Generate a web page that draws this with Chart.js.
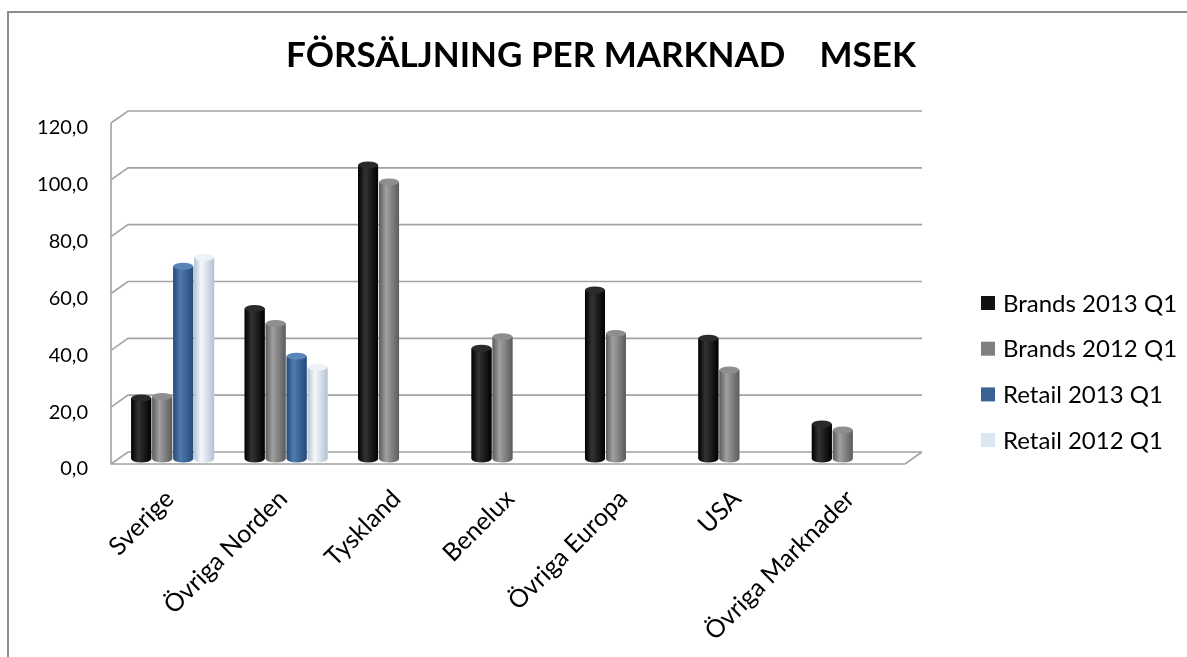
<!DOCTYPE html>
<html lang="sv">
<head>
<meta charset="utf-8">
<title>Försäljning per marknad</title>
<script src="https://cdn.jsdelivr.net/npm/chart.js@4.4.1/dist/chart.umd.min.js"></script>
<style>
  html, body { margin: 0; padding: 0; background: #fff; overflow: hidden; }
  #wrap { position: relative; width: 1187px; height: 657px; }
  #frame { position: absolute; left: 7px; top: 11px; width: 1300px; height: 800px;
           border-left: 2px solid #8c8c8c; border-top: 2px solid #8c8c8c; pointer-events: none; }
  canvas { position: absolute; left: 0; top: 0; }
</style>
</head>
<body>
<div id="wrap">
  <canvas id="salesChart" width="1187" height="657"></canvas>
  <div id="frame"></div>
</div>
<script>
// ============================================
// Försäljning per marknad (MSEK) – 3D-ish column chart
// ============================================

const chartTitle  = 'FÖRSÄLJNING PER MARKNAD    MSEK';
const categories  = ['Sverige', 'Övriga Norden', 'Tyskland', 'Benelux', 'Övriga Europa', 'USA', 'Övriga Marknader'];
const seriesNames = ['Brands 2013 Q1', 'Brands 2012 Q1', 'Retail 2013 Q1', 'Retail 2012 Q1'];
const brands2013  = [21.5, 53.0, 103.5, 39.0, 59.5, 42.5, 12.3];
const brands2012  = [22.0, 47.7, 97.5, 43.0, 44.2, 31.3, 10.2];
const retail2013  = [67.8, 36.2, null, null, null, null, null];
const retail2012  = [71.0, 32.3, null, null, null, null, null];
const yTickLabels = ['0,0', '20,0', '40,0', '60,0', '80,0', '100,0', '120,0'];

const FONT = 'Lato';

// cylinder shading per series: [base, edge, highlight, top]
const shades = [
  ['#111111', '#000000', '#333333', '#2a2a2a'],
  ['#808080', '#5c5c5c', '#a0a0a0', '#8e8e8e'],
  ['#3a6294', '#264a78', '#4f7bb0', '#5a85b8'],
  ['#dce6f2', '#b3c1d3', '#f6f9fd', '#eef3f9']
];

// depth offsets of back wall / front edge relative to the bar plane
const BACK  = { dx: 12, dy: -7 };
const FRONT = { dx: -5, dy: 5 };

const frame3d = {
  id: 'frame3d',
  beforeDatasetsDraw(chart) {
    const { ctx, chartArea: a, scales: { y } } = chart;
    ctx.save();
    ctx.strokeStyle = '#a3a3a3';
    ctx.lineWidth = 1.6;
    ctx.beginPath();
    for (let v = 0; v <= 120; v += 20) {
      const py = y.getPixelForValue(v);
      ctx.moveTo(a.left + FRONT.dx, py + FRONT.dy);
      ctx.lineTo(a.left + BACK.dx, py + BACK.dy);
      ctx.lineTo(a.right + BACK.dx, py + BACK.dy);
    }
    const y0 = y.getPixelForValue(0), yTop = y.getPixelForValue(120);
    ctx.moveTo(a.left + FRONT.dx, yTop + FRONT.dy);
    ctx.lineTo(a.left + FRONT.dx, y0 + FRONT.dy);
    ctx.lineTo(a.right + FRONT.dx, y0 + FRONT.dy);
    ctx.lineTo(a.right + BACK.dx, y0 + BACK.dy);
    ctx.stroke();
    ctx.restore();
  },
  afterDatasetsDraw(chart) {
    const ctx = chart.ctx;
    ctx.save();
    chart.data.datasets.forEach((ds, di) => {
      const [, edge, hi, top] = shades[di];
      chart.getDatasetMeta(di).data.forEach((el, i) => {
        if (ds.data[i] == null) return;
        const { x, y, base, width } = el.getProps(['x', 'y', 'base', 'width'], true);
        const l = x - width / 2, r = x + width / 2, ry = 3.5;
        const g = ctx.createLinearGradient(l, 0, r, 0);
        g.addColorStop(0, edge);
        g.addColorStop(0.35, hi);
        g.addColorStop(1, edge);
        ctx.fillStyle = g;
        ctx.beginPath();
        ctx.moveTo(l, y);
        ctx.lineTo(l, base);
        ctx.ellipse(x, base, width / 2, ry, 0, Math.PI, 0, true);
        ctx.lineTo(r, y);
        ctx.closePath();
        ctx.fill();
        ctx.fillStyle = top;
        ctx.beginPath();
        ctx.ellipse(x, y, width / 2, ry, 0, 0, Math.PI * 2);
        ctx.fill();
      });
    });
    ctx.restore();
  }
};

// title and legend placed like the original sheet (title off-centre, legend at right)
const decorations = {
  id: 'decorations',
  afterDraw(chart) {
    const ctx = chart.ctx;
    ctx.save();
    ctx.fillStyle = '#000';
    ctx.font = `bold 35px ${FONT}`;
    ctx.textAlign = 'center';
    ctx.textBaseline = 'middle';
    ctx.fillText(chartTitle, 601, 56);

    ctx.textAlign = 'left';
    ctx.font = `24px ${FONT}`;
    chart.data.datasets.forEach((ds, i) => {
      const cy = 303 + i * 45.7;
      ctx.fillStyle = ds.backgroundColor;
      ctx.fillRect(981, cy - 7, 14, 14);
      ctx.fillStyle = '#000';
      ctx.fillText(ds.label, 1003, cy + 1);
    });
    ctx.restore();
  }
};

const seriesData = [brands2013, brands2012, retail2013, retail2012];

new Chart(document.getElementById('salesChart'), {
  type: 'bar',
  data: {
    labels: categories,
    datasets: seriesData.map((d, i) => ({
      label: seriesNames[i],
      data: d,
      backgroundColor: shades[i][0],
      borderWidth: 0,
      barPercentage: 0.95,
      categoryPercentage: 0.74
    }))
  },
  options: {
    responsive: false,
    animation: false,
    layout: { padding: { left: 0, right: 277, top: 118, bottom: 0 } },
    plugins: {
      legend: { display: false },
      tooltip: { enabled: false },
      title: { display: false }
    },
    scales: {
      x: {
        grid: { display: false },
        border: { display: false },
        ticks: {
          color: '#000',
          font: { family: FONT, size: 25 },
          minRotation: 45, maxRotation: 45,
          padding: 17,
          labelOffset: -3,
          autoSkip: false
        },
        afterFit: s => { s.height = 198; }
      },
      y: {
        min: 0, max: 120,
        grid: { display: false, drawTicks: false },
        border: { display: false },
        ticks: {
          stepSize: 20,
          color: '#000',
          font: { family: FONT, size: 20 },
          padding: 28,
          labelOffset: 10,
          callback: (v, i) => yTickLabels[i]
        },
        afterFit: s => { s.width = 116; }
      }
    }
  },
  plugins: [frame3d, decorations]
});
</script>
</body>
</html>
